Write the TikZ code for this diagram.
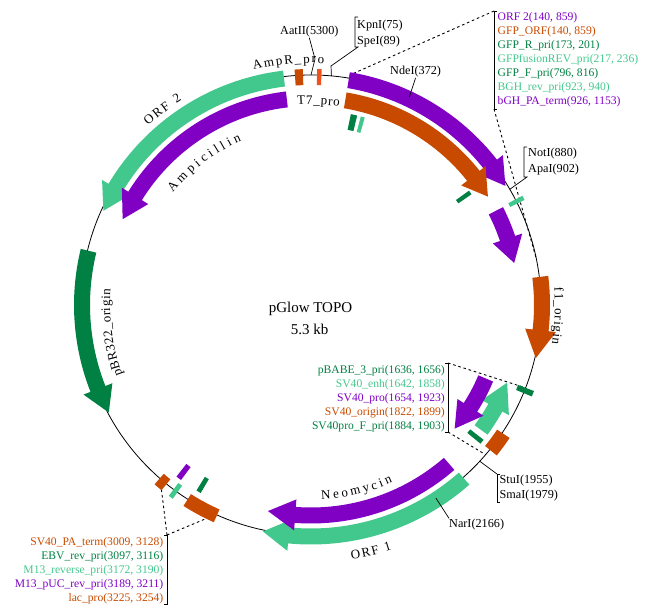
\documentclass[tikz,border=0pt]{standalone}
\usepackage{fontspec}
\setmainfont{Liberation Serif}
\usetikzlibrary{decorations.text}

\definecolor{plum}{HTML}{8000C4}
\definecolor{rust}{HTML}{C84A00}
\definecolor{mint}{HTML}{42C88C}
\definecolor{pine}{HTML}{008042}
\definecolor{flame}{HTML}{F0501E}

\tikzset{
	prilist/.style={inner sep=0pt, font=\fontsize{11.6}{14}\selectfont},
	site/.style={inner sep=0pt, font=\fontsize{12.2}{14}\selectfont},
	title/.style={inner sep=0pt, font=\fontsize{15}{18}\selectfont},
	zoomline/.style={line width=0.9pt, dash pattern=on 2.6pt off 2.8pt},
	leader/.style={line width=0.7pt},
	bracket/.style={line width=0.9pt}
}

% colour, start, tip, radius, head (bearings in degrees)
\newcommand{\orfarrow}[5]{
	\pgfmathsetmacro\sa{90-(#2)}
	\pgfmathsetmacro\ta{90-(#3)}
	\pgfmathsetmacro\ha{(#2)<(#3) ? \ta+#5 : \ta-#5}
	\fill[#1] (\sa:#4+8) arc (\sa:\ha:#4+8) -- (\ha:#4+15.5) -- (\ta:#4) -- (\ha:#4-15.5)
		-- (\ha:#4-8) arc (\ha:\sa:#4-8) -- cycle;
}
% colour, from, to, inner radius, outer radius
\newcommand{\block}[5]{
	\pgfmathsetmacro\sa{90-(#2)}
	\pgfmathsetmacro\ta{90-(#3)}
	\fill[#1] (\sa:#5) arc (\sa:\ta:#5) -- (\ta:#4) arc (\ta:\sa:#4) -- cycle;
}
% from, to, radius, letter gap, text
\newcommand{\arclabel}[5]{
	\pgfmathsetmacro\sa{90-(#1)}
	\pgfmathsetmacro\ta{90-(#2)}
	\path[decorate, decoration={text along path, text align=center,
		text={|\fontsize{13}{15}\selectfont\kern#4pt|#5}}] (\sa:#3) arc (\sa:\ta:#3);
}

\begin{document}
\begin{tikzpicture}[x=1pt, y=1pt]
	\useasboundingbox (0,0) rectangle (648,614);
	\coordinate (ori) at (311,309);

	% Sites on the ring
	\begin{scope}[shift={(ori)}]
		\draw[line width=0.8pt] (0,0) circle (230);
		\coordinate (aat) at (90:230);
		\coordinate (kpn) at (84.9:230);
		\coordinate (nde) at (64.7:230);
		\coordinate (not) at (30.2:230);
		\coordinate (stu) at (-42.8:230);
		\coordinate (nar) at (-57.1:230);
		\coordinate (orfa) at (80.5:233);
		\coordinate (orfb) at (11.7:230);
		\coordinate (svda) at (-21.1:230);
		\coordinate (svdb) at (-40.6:230);
		\coordinate (lacb) at (-114.4:230);
		\coordinate (laca) at (-131:230);
	\end{scope}

	% Nodes
	\node[title] (name) at (310.5,305) {pGlow TOPO};
	\node[title] (size) at (309.5,285) {5.3 kb};

	\node[site, anchor=base west] (aatii) at (280,579) {AatII(5300)};
	\node[site, anchor=base west] (kpni) at (357,585) {KpnI(75)};
	\node[site, anchor=base west] (spei) at (357,569) {SpeI(89)};
	\node[site, anchor=base west] (ndei) at (390,539) {NdeI(372)};
	\node[site, anchor=base west] (noti) at (528,457) {NotI(880)};
	\node[site, anchor=base west] (apai) at (528,441) {ApaI(902)};
	\node[site, anchor=base west] (stui) at (499.5,131) {StuI(1955)};
	\node[site, anchor=base west] (smai) at (499.5,116) {SmaI(1979)};
	\node[site, anchor=base west] (nari) at (449,87) {NarI(2166)};

	\node[prilist, anchor=base west, text=plum] (orf2) at (497.5,593.3) {ORF 2(140, 859)};
	\node[prilist, anchor=base west, text=rust] (gfporf) at (497.5,579.3) {GFP\_ORF(140, 859)};
	\node[prilist, anchor=base west, text=pine] (gfpr) at (497.5,565.3) {GFP\_R\_pri(173, 201)};
	\node[prilist, anchor=base west, text=mint] (gfprev) at (497.5,551.3) {GFPfusionREV\_pri(217, 236)};
	\node[prilist, anchor=base west, text=pine] (gfpf) at (497.5,537.3) {GFP\_F\_pri(796, 816)};
	\node[prilist, anchor=base west, text=mint] (bghrev) at (497.5,523.3) {BGH\_rev\_pri(923, 940)};
	\node[prilist, anchor=base west, text=plum] (bghpa) at (497.5,509.3) {bGH\_PA\_term(926, 1153)};

	\node[prilist, anchor=base east, text=pine] (pbabe) at (445,240.5) {pBABE\_3\_pri(1636, 1656)};
	\node[prilist, anchor=base east, text=mint] (svenh) at (445,226.5) {SV40\_enh(1642, 1858)};
	\node[prilist, anchor=base east, text=plum] (svpro) at (445,212.5) {SV40\_pro(1654, 1923)};
	\node[prilist, anchor=base east, text=rust] (svori) at (445,198.5) {SV40\_origin(1822, 1899)};
	\node[prilist, anchor=base east, text=pine] (svprof) at (445,184.5) {SV40pro\_F\_pri(1884, 1903)};

	\node[prilist, anchor=base east, text=rust] (svpa) at (163.5,69) {SV40\_PA\_term(3009, 3128)};
	\node[prilist, anchor=base east, text=pine] (ebv) at (163.5,55) {EBV\_rev\_pri(3097, 3116)};
	\node[prilist, anchor=base east, text=mint] (m13rev) at (163.5,41) {M13\_reverse\_pri(3172, 3190)};
	\node[prilist, anchor=base east, text=plum] (m13puc) at (163.5,27) {M13\_pUC\_rev\_pri(3189, 3211)};
	\node[prilist, anchor=base east, text=rust] (lac) at (163.5,13) {lac\_pro(3225, 3254)};

	% Bracket corners
	\coordinate (bra) at (494,603);
	\coordinate (brb) at (494,505);
	\coordinate (brc) at (448,251);
	\coordinate (brd) at (448,182);
	\coordinate (bre) at (167,79);
	\coordinate (brf) at (167,10);
	\coordinate (kpnt) at (355,597);
	\coordinate (kpnb) at (355,567);
	\coordinate (nott) at (524,467);
	\coordinate (notb) at (524,437);
	\coordinate (stut) at (497,140);
	\coordinate (stub) at (497,112);
	\coordinate (aatk) at (315,555);
	\coordinate (kpnk) at (331,548);

	% Edges
	\draw[bracket] (bra) ++(3,0) -- (bra) -- (brb) -- ++(3,0);
	\draw[bracket] (brc) ++(-3,0) -- (brc) -- (brd) -- ++(-3,0);
	\draw[bracket] (bre) ++(-3,0) -- (bre) -- (brf) -- ++(-3,0);
	\draw[zoomline] (bra) -- (orfa);
	\draw[zoomline] (brb) -- (orfb);
	\draw[zoomline] (brc) -- (svda);
	\draw[zoomline] (brd) -- (svdb);
	\draw[zoomline] (bre) -- (lacb);
	\draw[zoomline] (bre) -- (laca);
	\draw[leader] (aatii.south) -- (aatk) -- (aat);
	\draw[leader] (kpnt) ++(3,0) -- (kpnt) -- (kpnb) -- ++(3,0) -- (kpnk) -- (kpn);
	\draw[leader] (nott) ++(3,0) -- (nott) -- (notb) -- ++(3,0) -- (not);
	\draw[leader] (stub) ++(2.5,0) -- (stub) -- (stut) -- ++(2.5,0);
	\draw[leader] (stut) -- (stu);

	% Features
	\begin{scope}[shift={(ori)}]
		\orfarrow{mint}{-6.8}{-65.6}{228}{6.5}
		\orfarrow{plum}{-6.7}{-65.5}{207}{7.3}
		\orfarrow{pine}{-76.3}{-118}{229}{6.5}
		\orfarrow{mint}{138.6}{192}{231.5}{6.5}
		\orfarrow{plum}{139}{191.8}{210.5}{7.5}
		\orfarrow{plum}{9.5}{58.5}{228}{6.5}
		\orfarrow{rust}{9.5}{58.5}{207.5}{7}
		\orfarrow{plum}{63}{78.3}{207.5}{7}
		\orfarrow{rust}{83}{103.3}{231}{7}
		\orfarrow{mint}{126.3}{111.6}{211}{7.5}
		\orfarrow{plum}{112.8}{130.7}{189.5}{8}

		\block{rust}{-4}{-2}{220}{236}
		\block{flame}{1.5}{2.6}{220}{236}
		\block{pine}{11.8}{13.7}{179}{195}
		\block{mint}{14.8}{16}{179}{195}
		\block{pine}{54.1}{55.4}{179}{195}
		\block{mint}{62.7}{63.8}{222}{238}
		\block{pine}{111.1}{112.5}{222}{239}
		\block{rust}{123.8}{129}{224}{239}
		\block{pine}{128}{129.3}{202}{219}
		\block{rust}{204.1}{212.4}{224}{238}
		\block{pine}{210.4}{211.7}{202}{218}
		\block{mint}{215.5}{216.7}{222}{238}
		\block{plum}{216.6}{218.1}{202}{218}
		\block{rust}{218.9}{221.1}{224}{238}
	\end{scope}

	% Lines over the features
	\draw[leader] (ndei.south) -- (nde);
	\draw[leader] (nari.north west) -- (nar);

	% Names along the ring
	\begin{scope}[shift={(ori)}]
		\arclabel{-18}{7}{242}{1.8}{AmpR{\_}pro}
		\arclabel{-8}{12}{200.5}{0.8}{T7{\_}pro}
		\arclabel{-46}{-29}{242}{1.8}{ORF 2}
		\arclabel{-56}{-19}{178}{3.4}{Ampicillin}
		\arclabel{-114}{-82}{201}{0.5}{pBR322{\_}origin}
		\arclabel{82}{103}{244}{1}{f1{\_}origin}
		\arclabel{182}{151}{195}{2.8}{Neomycin}
		\arclabel{175}{158}{258}{1.6}{ORF 1}
	\end{scope}
\end{tikzpicture}
\end{document}
